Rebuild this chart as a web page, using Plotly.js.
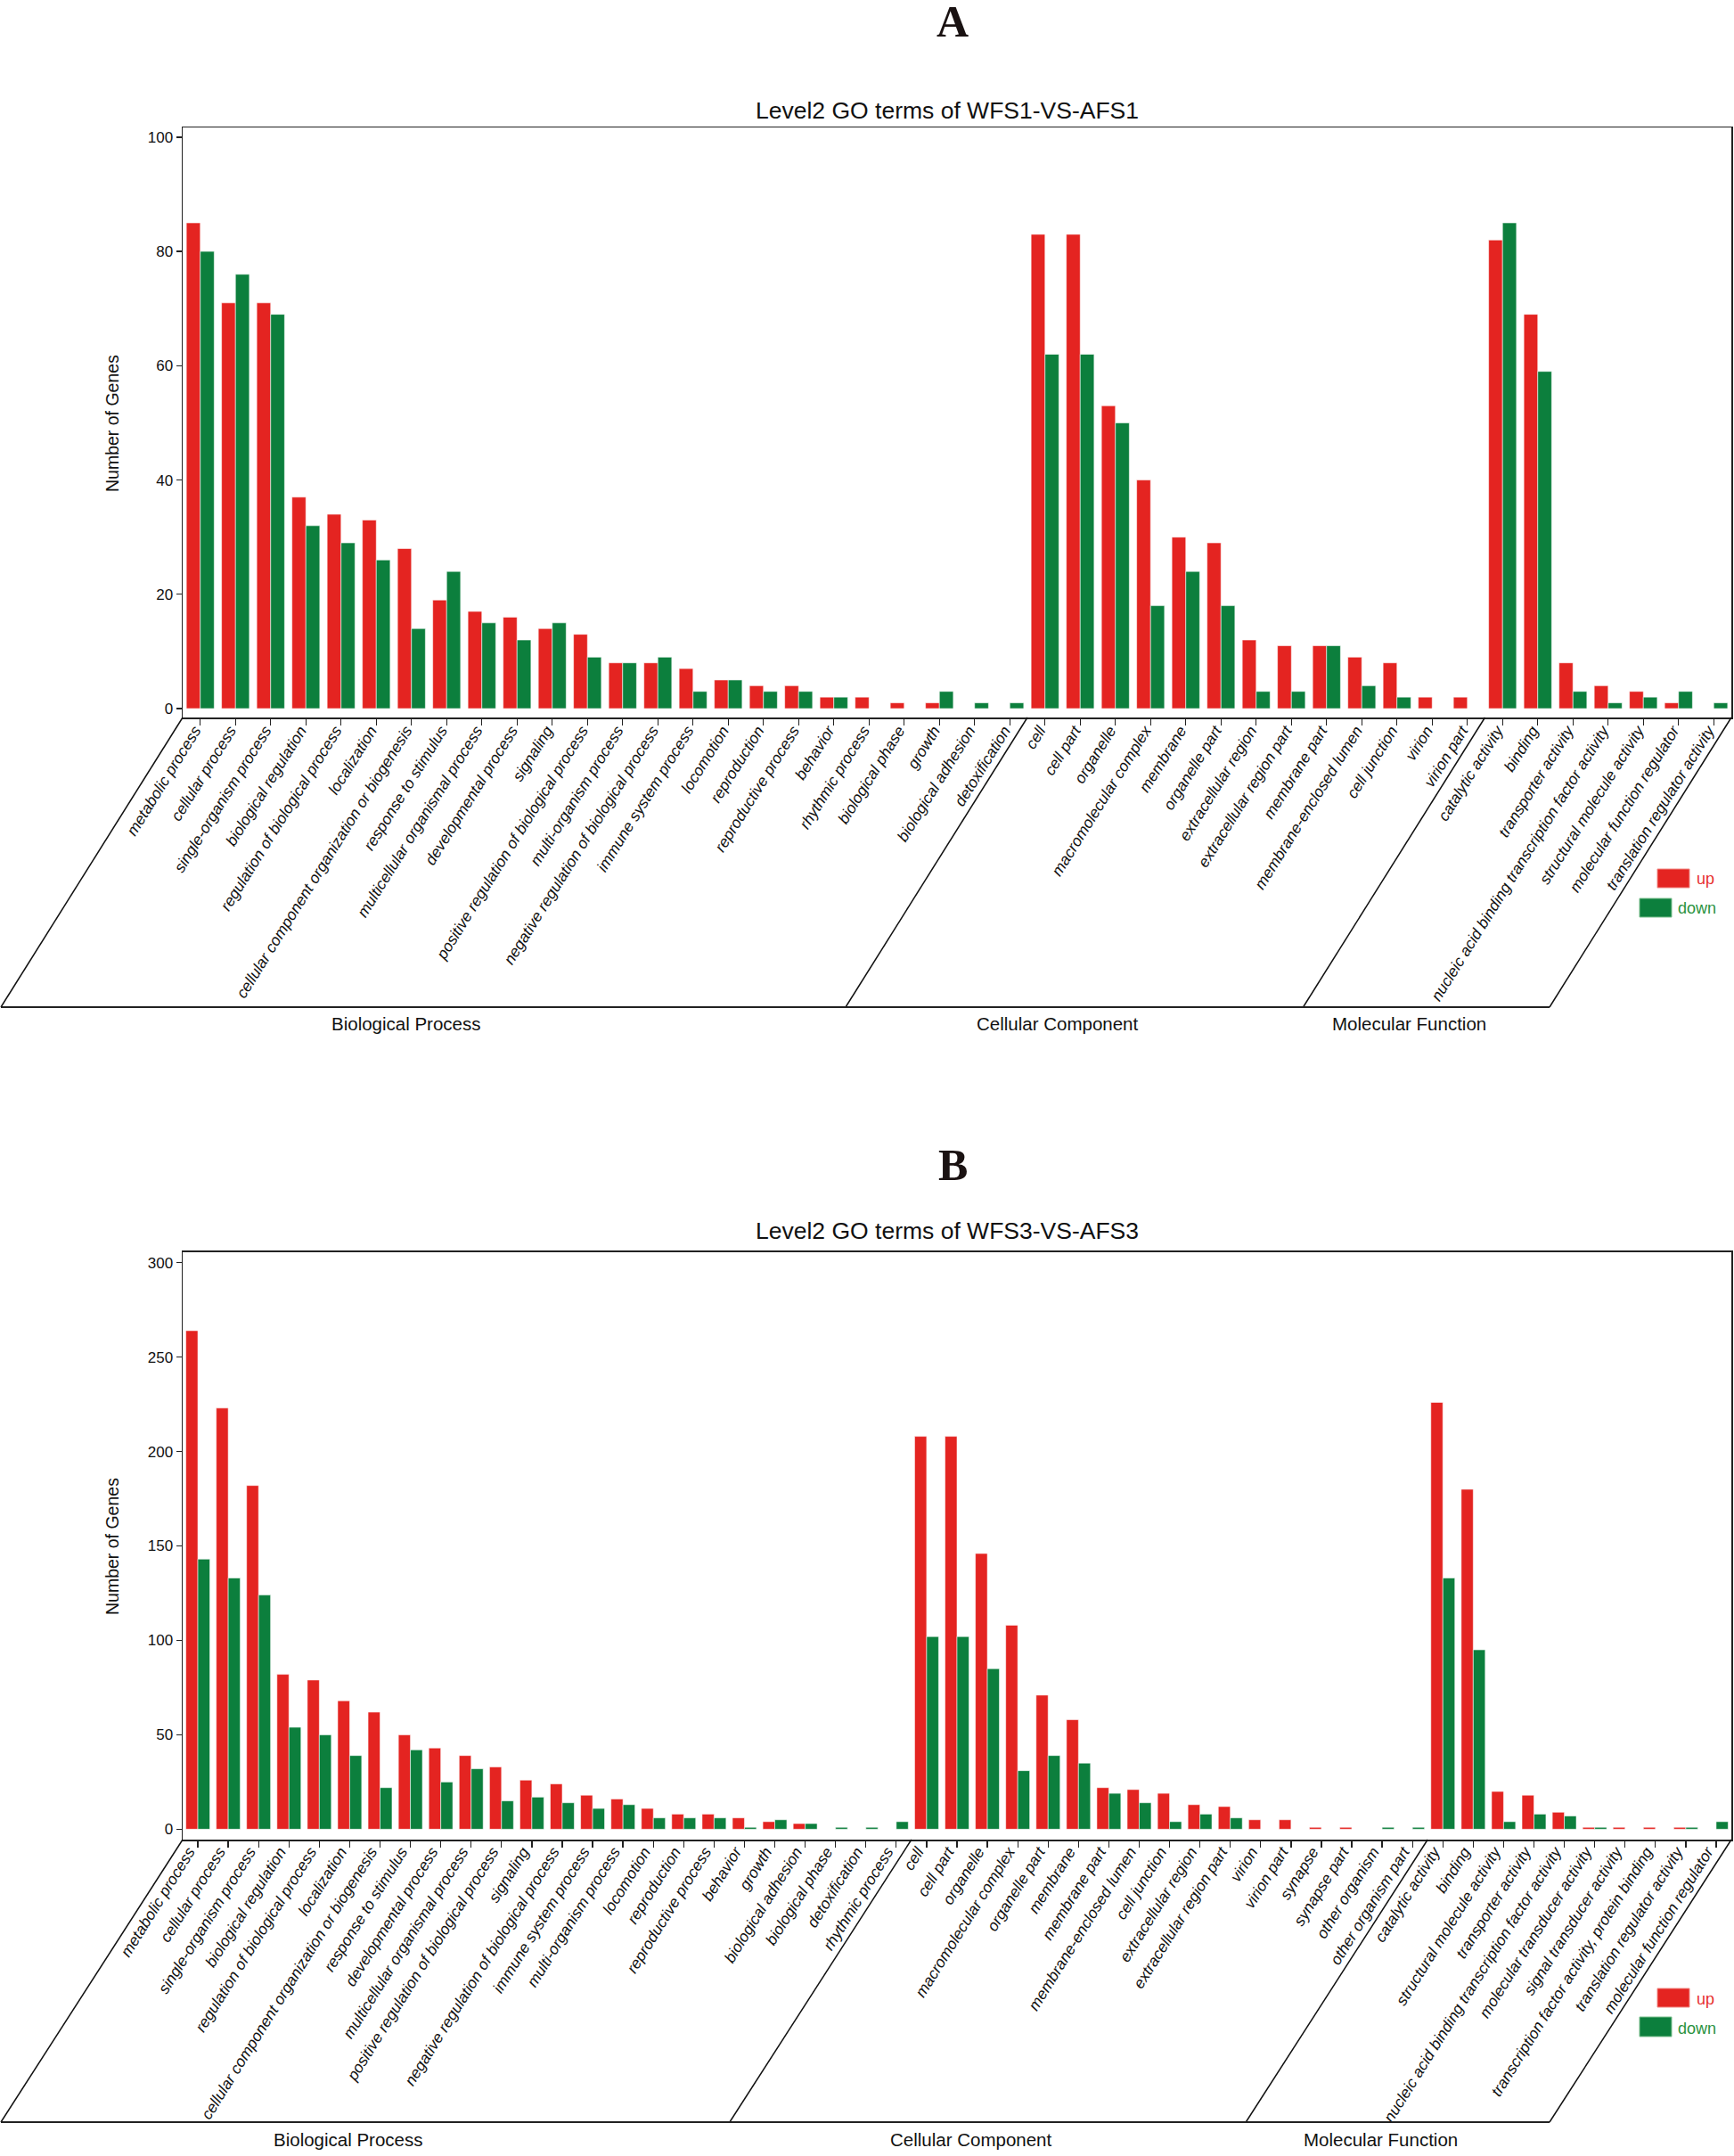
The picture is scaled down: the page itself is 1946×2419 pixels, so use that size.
<!DOCTYPE html>
<html><head><meta charset="utf-8">
<script src="https://cdn.plot.ly/plotly-3.0.1.min.js"></script>
<style>html,body{margin:0;padding:0;background:#fff}</style>
</head><body>
<div id="chart" style="width:1946px;height:2419px"></div>
<script>
// ---------- Panel A data: WFS1-VS-AFS1 ----------
const A_BP_terms = ["metabolic process","cellular process","single-organism process","biological regulation","regulation of biological process","localization","cellular component organization or biogenesis","response to stimulus","multicellular organismal process","developmental process","signaling","positive regulation of biological process","multi-organism process","negative regulation of biological process","immune system process","locomotion","reproduction","reproductive process","behavior","rhythmic process","biological phase","growth","biological adhesion","detoxification"];
const A_BP_up   = [85,71,71,37,34,33,28,19,17,16,14,13,8,8,7,5,4,4,2,2,1,1,0,0];
const A_BP_down = [80,76,69,32,29,26,14,24,15,12,15,9,8,9,3,5,3,3,2,0,0,3,1,1];
const A_CC_terms = ["cell","cell part","organelle","macromolecular complex","membrane","organelle part","extracellular region","extracellular region part","membrane part","membrane-enclosed lumen","cell junction","virion","virion part"];
const A_CC_up   = [83,83,53,40,30,29,12,11,11,9,8,2,2];
const A_CC_down = [62,62,50,18,24,18,3,3,11,4,2,0,0];
const A_MF_terms = ["catalytic activity","binding","transporter activity","nucleic acid binding transcription factor activity","structural molecule activity","molecular function regulator","translation regulator activity"];
const A_MF_up   = [82,69,8,4,3,1,0];
const A_MF_down = [85,59,3,1,2,3,1];

// ---------- Panel B data: WFS3-VS-AFS3 ----------
const B_BP_terms = ["metabolic process","cellular process","single-organism process","biological regulation","regulation of biological process","localization","cellular component organization or biogenesis","response to stimulus","developmental process","multicellular organismal process","positive regulation of biological process","signaling","negative regulation of biological process","immune system process","multi-organism process","locomotion","reproduction","reproductive process","behavior","growth","biological adhesion","biological phase","detoxification","rhythmic process"];
const B_BP_up   = [264,223,182,82,79,68,62,50,43,39,33,26,24,18,16,11,8,8,6,4,3,0,0,0];
const B_BP_down = [143,133,124,54,50,39,22,42,25,32,15,17,14,11,13,6,6,6,1,5,3,1,1,4];
const B_CC_terms = ["cell","cell part","organelle","macromolecular complex","organelle part","membrane","membrane part","membrane-enclosed lumen","cell junction","extracellular region","extracellular region part","virion","virion part","synapse","synapse part","other organism","other organism part"];
const B_CC_up   = [208,208,146,108,71,58,22,21,19,13,12,5,5,1,1,0,0];
const B_CC_down = [102,102,85,31,39,35,19,14,4,8,6,0,0,0,0,1,1];
const B_MF_terms = ["catalytic activity","binding","structural molecule activity","transporter activity","nucleic acid binding transcription factor activity","molecular transducer activity","signal transducer activity","transcription factor activity, protein binding","translation regulator activity","molecular function regulator"];
const B_MF_up   = [226,180,20,18,9,1,1,1,1,0];
const B_MF_down = [133,95,4,8,7,1,0,0,1,4];

const groupNames = ["Biological Process","Cellular Component","Molecular Function"];
const seriesNames = ["up","down"];
const titles = ["Level2 GO terms of WFS1-VS-AFS1","Level2 GO terms of WFS3-VS-AFS3"];
const panelLetters = ["A","B"];

// ---------- layout constants ----------
const W = 1946, H = 2419;
const RED = "#E42421", GREEN = "#0C7F3D";
const PLOT_L = 205, PLOT_R = 1943;
const SLANT = 204;       // horizontal shift of slanted separators (px)
const SANS = "Liberation Sans, Arial, sans-serif";
const panels = [
  {groups:[[A_BP_terms,A_BP_up,A_BP_down],[A_CC_terms,A_CC_up,A_CC_down],[A_MF_terms,A_MF_up,A_MF_down]],
   top:143, bottom:805, base:1130, labelY:1148, yrange:[-1.56,101.7], dtick:20,
   titleY:124, letterY:24, ytitleY:475, lblShift:-6, lblStand:-11,
   legUp:[1860,975,1896,996], legDown:[1840,1008,1876,1029], upTxt:[1902,986], downTxt:[1881,1019]},
  {groups:[[B_BP_terms,B_BP_up,B_BP_down],[B_CC_terms,B_CC_up,B_CC_down],[B_MF_terms,B_MF_up,B_MF_down]],
   top:1404.6, bottom:2064, base:2381, labelY:2400, yrange:[-5.5,305.7], dtick:50,
   titleY:1381, letterY:1307, ytitleY:1735, lblShift:-10, lblStand:-12,
   legUp:[1860,2231,1896,2252], legDown:[1840,2263,1876,2285], upTxt:[1902,2243], downTxt:[1881,2276]}
];
const px = x => x / W;
const py = y => 1 - y / H;

const traces = [], shapes = [], annotations = [];
const layout = {
  width: W, height: H, autosize: false,
  margin: {l:0, r:0, t:0, b:0, pad:0},
  paper_bgcolor: "#fff", plot_bgcolor: "#fff",
  barmode: "group", bargap: 0.21, bargroupgap: 0,
  showlegend: false,
  font: {family: SANS, color: "#111"}
};

panels.forEach((p, k) => {
  const xa = k === 0 ? "x" : "x2", ya = k === 0 ? "y" : "y2";
  const xkey = k === 0 ? "xaxis" : "xaxis2", ykey = k === 0 ? "yaxis" : "yaxis2";
  const cats = [], up = [], down = [];
  p.groups.forEach(g => { cats.push(...g[0]); up.push(...g[1]); down.push(...g[2]); });
  const n = cats.length;
  [up, down].forEach((vals, s) => {
    traces.push({
      type: "bar", name: seriesNames[s], x: cats, y: vals, xaxis: xa, yaxis: ya,
      marker: {color: s === 0 ? RED : GREEN, line: {color: "rgba(255,255,255,0.55)", width: 1}},
      hoverinfo: "x+y+name"
    });
  });
  layout[xkey] = {
    domain: [px(PLOT_L), px(PLOT_R)], anchor: ya, type: "category",
    categoryorder: "array", categoryarray: cats, range: [-0.5, n - 0.5],
    tickmode: "linear", tick0: 0, dtick: 1,
    showline: true, mirror: true, linecolor: "#222", linewidth: 1.5,
    ticks: "outside", ticklen: 7, tickwidth: 1.3, tickcolor: "#222",
    tickangle: -58, ticklabelstandoff: p.lblStand, ticklabelshift: p.lblShift,
    showgrid: false, zeroline: false,
    tickfont: {family: SANS, size: 17.5, style: "italic", color: "#111"}
  };
  layout[ykey] = {
    domain: [py(p.bottom), py(p.top)], anchor: xa, range: p.yrange,
    tickmode: "linear", tick0: 0, dtick: p.dtick,
    showline: true, mirror: true, linecolor: "#222", linewidth: 1.5,
    ticks: "outside", ticklen: 6, tickwidth: 1.3, tickcolor: "#222",
    showgrid: false, zeroline: false,
    tickfont: {family: SANS, size: 17, color: "#111"}
  };

  // slanted group separators and base line
  const sp = (PLOT_R - PLOT_L) / n;
  const bx = i => PLOT_L + (i + 0.5) * sp;   // pixel x of category position i
  const line = {color: "#111", width: 1.5};
  let start = 0;
  const bounds = [-0.5];
  p.groups.forEach(g => { start += g[0].length; bounds.push(start - 0.5); });
  bounds.forEach(b => {
    shapes.push({type: "line", xref: "paper", yref: "paper",
      x0: px(bx(b)), y0: py(p.bottom), x1: px(bx(b) - SLANT), y1: py(p.base), line});
  });
  shapes.push({type: "line", xref: "paper", yref: "paper",
    x0: px(bx(-0.5) - SLANT), y0: py(p.base), x1: px(bx(n - 0.5) - SLANT), y1: py(p.base),
    line: {color: "#222", width: 2}});
  start = 0;
  p.groups.forEach((g, gi) => {
    const c = start + (g[0].length - 1) / 2;
    annotations.push({xref: "paper", yref: "paper", x: px(bx(c) - SLANT - 19), y: py(p.labelY),
      text: groupNames[gi], showarrow: false, xanchor: "center", yanchor: "middle",
      font: {family: SANS, size: 20.5, color: "#111"}});
    start += g[0].length;
  });

  // titles and panel letter
  annotations.push({xref: "paper", yref: "paper", x: px(1063), y: py(p.titleY), text: titles[k],
    showarrow: false, xanchor: "center", yanchor: "middle",
    font: {family: SANS, size: 26.5, color: "#111"}});
  annotations.push({xref: "paper", yref: "paper", x: px(1069), y: py(p.letterY), text: "<b>" + panelLetters[k] + "</b>",
    showarrow: false, xanchor: "center", yanchor: "middle",
    font: {family: "Liberation Serif, Times New Roman, serif", size: 50, color: "#1a1212"}});
  annotations.push({xref: "paper", yref: "paper", x: px(126), y: py(p.ytitleY), text: "Number of Genes",
    textangle: -90, showarrow: false, xanchor: "center", yanchor: "middle",
    font: {family: SANS, size: 19.5, color: "#111"}});

  // legend (staggered boxes)
  shapes.push({type: "rect", xref: "paper", yref: "paper",
    x0: px(p.legUp[0]), y0: py(p.legUp[1]), x1: px(p.legUp[2]), y1: py(p.legUp[3]),
    fillcolor: RED, line: {color: "#f08a86", width: 1}});
  shapes.push({type: "rect", xref: "paper", yref: "paper",
    x0: px(p.legDown[0]), y0: py(p.legDown[1]), x1: px(p.legDown[2]), y1: py(p.legDown[3]),
    fillcolor: GREEN, line: {color: "#7cc08f", width: 1}});
  annotations.push({xref: "paper", yref: "paper", x: px(p.upTxt[0]), y: py(p.upTxt[1]), text: seriesNames[0],
    showarrow: false, xanchor: "left", yanchor: "middle",
    font: {family: SANS, size: 18, color: "#E8302E"}});
  annotations.push({xref: "paper", yref: "paper", x: px(p.downTxt[0]), y: py(p.downTxt[1]), text: seriesNames[1],
    showarrow: false, xanchor: "left", yanchor: "middle",
    font: {family: SANS, size: 18, color: "#2A9240"}});
});

layout.shapes = shapes;
layout.annotations = annotations;
Plotly.newPlot("chart", traces, layout, {staticPlot: true, displayModeBar: false});
</script>
</body></html>
